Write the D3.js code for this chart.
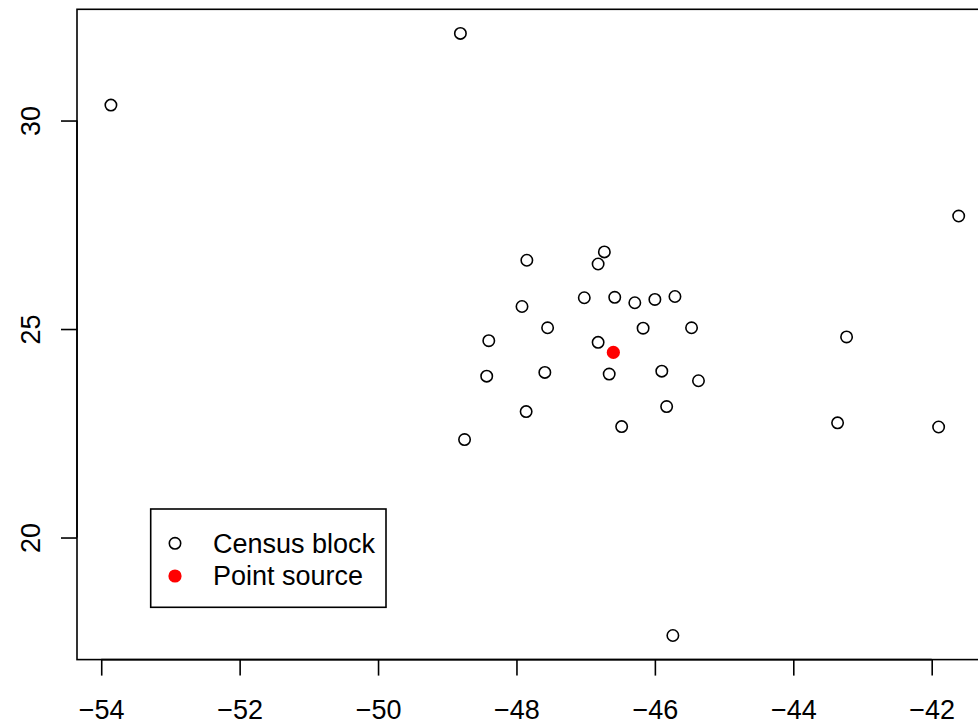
<!DOCTYPE html>
<html>
<head>
<meta charset="utf-8">
<script src="https://cdn.jsdelivr.net/npm/d3@7"></script>
<style>
  html, body { margin: 0; padding: 0; background: #fff; }
  svg { display: block; font-family: "Liberation Sans", Arial, sans-serif; }
</style>
</head>
<body>
<svg id="chart" width="978" height="726"></svg>
<script>
// Census block coordinates (x = longitude-like, y = latitude-like)
const blockX = [-53.86, -48.81, -41.61, -46.73, -47.85, -46.82, -47.02, -46.58, -46.29, -46.00,
                -45.71, -47.92, -47.55, -46.17, -45.47, -48.40, -46.82, -43.23, -48.43, -47.59,
                -46.66, -45.90, -45.37, -47.86, -45.83, -46.48, -48.75, -43.36, -41.90, -45.74];
const blockY = [30.37, 32.09, 27.71, 26.85, 26.65, 26.56, 25.75, 25.76, 25.63, 25.71,
                25.78, 25.54, 25.03, 25.02, 25.03, 24.72, 24.68, 24.81, 23.87, 23.96,
                23.92, 23.99, 23.76, 23.02, 23.14, 22.66, 22.35, 22.75, 22.65, 17.65];
// Point source
const sourceX = [-46.60];
const sourceY = [24.44];

const xTicks = [-54, -52, -50, -48, -46, -44, -42];
const yTicks = [20, 25, 30];
const legendLabels = ["Census block", "Point source"];

(function () {
const svg = d3.select("#chart");

const allX = blockX.concat(sourceX), allY = blockY.concat(sourceY);
const [xmin, xmax] = d3.extent(allX), [ymin, ymax] = d3.extent(allY);
const padX = (xmax - xmin) * 0.04, padY = (ymax - ymin) * 0.04;

const pLeft = 77, pRight = 992.6, pTop = 9.3, pBottom = 659.6;
const x = d3.scaleLinear().domain([xmin - padX, xmax + padX]).range([pLeft, pRight]);
const y = d3.scaleLinear().domain([ymin - padY, ymax + padY]).range([pBottom, pTop]);

const fs = 27;
const lw = 1.6;

// Plot box
svg.append("rect")
  .attr("x", pLeft).attr("y", pTop)
  .attr("width", pRight - pLeft).attr("height", pBottom - pTop)
  .attr("fill", "none").attr("stroke", "#000").attr("stroke-width", lw);

// X axis
const xAxis = svg.append("g").attr("transform", `translate(0,${pBottom})`)
  .call(d3.axisBottom(x).tickValues(xTicks).tickSize(16).tickPadding(0)
        .tickFormat(d => String(d).replace("-", "\u2212")));
xAxis.select(".domain").remove();
xAxis.append("line")
  .attr("x1", x(d3.min(xTicks))).attr("x2", x(d3.max(xTicks)))
  .attr("stroke", "#000").attr("stroke-width", lw);
xAxis.selectAll(".tick line").attr("stroke-width", lw);
xAxis.selectAll(".tick text").attr("font-size", fs).attr("font-family", "Liberation Sans, Arial, sans-serif")
  .attr("fill", "#000").attr("dy", null).attr("y", 59.5);

// Y axis
const yAxis = svg.append("g").attr("transform", `translate(${pLeft},0)`)
  .call(d3.axisLeft(y).tickValues(yTicks).tickSize(16).tickPadding(0));
yAxis.select(".domain").remove();
yAxis.append("line")
  .attr("y1", y(d3.min(yTicks))).attr("y2", y(d3.max(yTicks)))
  .attr("stroke", "#000").attr("stroke-width", lw);
yAxis.selectAll(".tick line").attr("stroke-width", lw);
yAxis.selectAll(".tick text").attr("font-size", fs).attr("font-family", "Liberation Sans, Arial, sans-serif")
  .attr("fill", "#000").attr("x", null).attr("dy", null)
  .attr("text-anchor", "middle")
  .attr("transform", "translate(-37,0) rotate(-90)");

// Census block points
svg.append("g").selectAll("circle")
  .data(blockX.map((v, i) => [v, blockY[i]]))
  .join("circle")
  .attr("cx", d => x(d[0])).attr("cy", d => y(d[1]))
  .attr("r", 5.7)
  .attr("fill", "none").attr("stroke", "#000").attr("stroke-width", 1.6);

// Point source
svg.append("g").selectAll("circle")
  .data(sourceX.map((v, i) => [v, sourceY[i]]))
  .join("circle")
  .attr("cx", d => x(d[0])).attr("cy", d => y(d[1]))
  .attr("r", 6.6)
  .attr("fill", "#ff0000");

// Legend
const lg = svg.append("g");
lg.append("rect").attr("x", 150.7).attr("y", 509).attr("width", 235.3).attr("height", 98.3)
  .attr("fill", "#fff").attr("stroke", "#000").attr("stroke-width", lw);
lg.append("circle").attr("cx", 175).attr("cy", 543.3).attr("r", 5.7)
  .attr("fill", "none").attr("stroke", "#000").attr("stroke-width", 1.6);
lg.append("circle").attr("cx", 175).attr("cy", 576).attr("r", 6.6).attr("fill", "#ff0000");
lg.selectAll("text").data(legendLabels).join("text")
  .attr("x", 213).attr("y", (d, i) => 552.5 + i * 32.7)
  .attr("font-size", fs).attr("fill", "#000").text(d => d);
})();
</script>
</body>
</html>
